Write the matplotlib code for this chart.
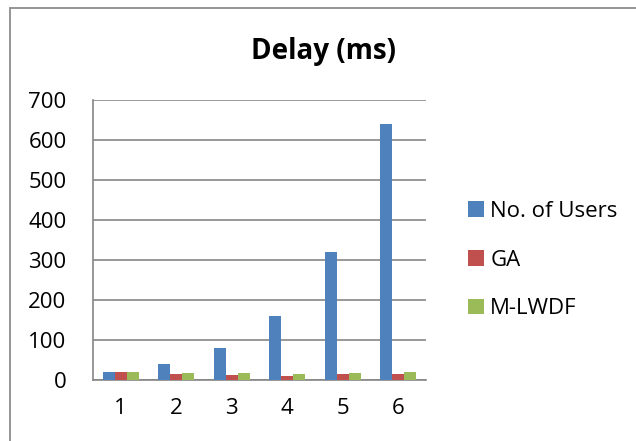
import numpy as np
import matplotlib.pyplot as plt
from matplotlib.patches import Rectangle

plt.rcParams['font.family'] = ['Open Sans', 'DejaVu Sans']

# Delay per run for each scheme
runs = ['1', '2', '3', '4', '5', '6']
users = [20, 40, 80, 160, 320, 640]
ga = [19, 15, 13, 11, 16, 14]
mlwdf = [21, 18, 17, 16, 17, 19]

series = [('No. of Users', users, '#4F81BD'),
          ('GA', ga, '#C0504D'),
          ('M-LWDF', mlwdf, '#9BBB59')]

fig = plt.figure(figsize=(6.36, 4.41), dpi=100)
ax = fig.add_axes([93 / 636, 1 - 380 / 441, (426 - 93) / 636, 280 / 441])

# outer chart frame
fig.patches.append(Rectangle((10 / 636, -0.1), 1.1, 1.1 - 8 / 441,
                             transform=fig.transFigure, fill=False,
                             edgecolor='#8c8c8c', linewidth=1.3))

x = np.arange(len(runs))
w = 0.215
for i, (name, vals, col) in enumerate(series):
    ax.bar(x + (i - 1) * w, vals, width=w, color=col, label=name, zorder=3)

ax.set_xlim(-0.5, len(runs) - 0.5)
ax.set_ylim(0, 700)
ax.set_yticks(range(0, 701, 100))
ax.set_xticks(x)
ax.set_xticklabels(runs)
ax.tick_params(length=0, labelsize=16)
ax.tick_params(axis='x', pad=13)
ax.tick_params(axis='y', pad=19)
ax.grid(axis='y', color='#868686', linewidth=1.2, zorder=0)
for s in ['top', 'right']:
    ax.spines[s].set_visible(False)
for s in ['left', 'bottom']:
    ax.spines[s].set_color('#868686')
    ax.spines[s].set_linewidth(1.2)

fig.text(323 / 636, 1 - 51 / 441, 'Delay (ms)', ha='center', va='center',
         fontsize=20, fontweight='bold')

ax.legend(loc='center left', bbox_to_anchor=(1.126, 0.428), frameon=False,
          fontsize=16, handlelength=0.7, handleheight=0.7, handletextpad=0.3,
          labelspacing=1.25, borderpad=0, borderaxespad=0)

fig.savefig('out.png', dpi=100)
